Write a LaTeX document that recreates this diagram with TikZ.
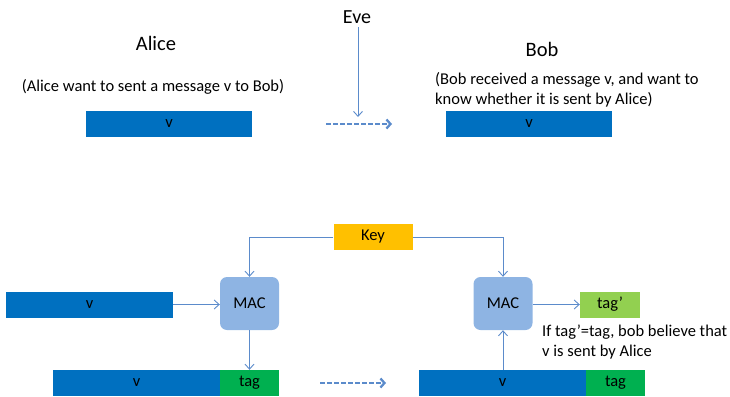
\documentclass[tikz,border=0pt]{standalone}
\usepackage{fontspec}
\setmainfont{Carlito}
\usepackage{xcolor}
\usetikzlibrary{arrows.meta}

\definecolor{barblue}{HTML}{0070C0}
\definecolor{tagGreen}{HTML}{00B050}
\definecolor{tagLight}{HTML}{92D050}
\definecolor{keyOrange}{HTML}{FFC000}
\definecolor{macBlue}{HTML}{8EB4E3}
\definecolor{lineBlue}{HTML}{5B8BCB}

\begin{document}
\begin{tikzpicture}[x=1pt, y=-1pt,
	bar/.style={fill=barblue, minimum height=26pt, inner sep=0pt, font=\fontsize{16.5}{18}\selectfont},
	tagbox/.style={fill=tagGreen, minimum width=59pt, minimum height=26pt, inner sep=0pt, font=\fontsize{16.5}{18}\selectfont},
	macbox/.style={fill=macBlue, rounded corners=7pt, minimum width=59pt, minimum height=53pt, inner sep=0pt, font=\fontsize{16.5}{18}\selectfont},
	link/.style={draw=lineBlue, line width=0.9pt, -{Straight Barb[length=5pt, width=9pt]}},
	send/.style={draw=lineBlue, line width=2.3pt, dash pattern=on 4.5pt off 2.5pt, -{Straight Barb[length=4pt, width=9pt]}}]
	\useasboundingbox (0, 0) rectangle (730, 396);

	% Top: sending the message
	\node[font=\fontsize{20}{22}\selectfont] (eve) at (357, 17) {Eve};
	\node[font=\fontsize{20.5}{22}\selectfont] (alice) at (156, 43) {Alice};
	\node[font=\fontsize{20.5}{22}\selectfont] (bob) at (542, 49) {Bob};
	\node[font=\fontsize{16.5}{20}\selectfont] (aliceTxt) at (153, 87) {(Alice want to sent a message v to Bob)};
	\node[font=\fontsize{16.5}{20}\selectfont, align=left, anchor=west, inner sep=0pt] (bobTxt) at (435, 90) {(Bob received a message v, and want to\\know whether it is sent by Alice)};

	\node[bar, minimum width=166pt] (v1) at (169, 124) {v};
	\node[bar, minimum width=166pt] (v2) at (529, 124) {v};

	\coordinate (e1) at (358, 117);
	\coordinate (s1) at (326, 124);
	\coordinate (s2) at (392, 124);
	\draw[link] (eve.south -| e1) -- (e1);
	\draw[send] (s1) -- (s2);

	% Bottom: MAC and tag
	\node[fill=keyOrange, minimum width=79pt, minimum height=26pt, inner sep=0pt, font=\fontsize{16.5}{18}\selectfont] (key) at (373, 237) {Key};
	\node[macbox] (mac1) at (249.5, 303.5) {MAC};
	\node[macbox] (mac2) at (503, 303.5) {MAC};

	\node[bar, minimum width=167pt] (v3) at (89.5, 304.5) {v};
	\node[bar, minimum width=167pt] (v4) at (136.5, 383) {v};
	\node[tagbox] (t4) at (249.5, 383) {tag};
	\node[bar, minimum width=167pt] (v5) at (502.5, 383) {v};
	\node[tagbox] (t5) at (615.5, 383) {tag};
	\node[fill=tagLight, minimum width=60pt, minimum height=26pt, inner sep=0pt, font=\fontsize{16.5}{18}\selectfont] (tagP) at (610, 304.5) {tag’};
	\node[font=\fontsize{16.5}{20}\selectfont, align=left, anchor=west, inner sep=0pt] (checkTxt) at (542, 342) {If tag’=tag, bob believe that\\v is sent by Alice};

	\draw[link] (key.west) -| (mac1.north);
	\draw[link] (key.east) -| (mac2.north);
	\draw[link] (v3.east) -- (mac1.west |- v3.east);
	\draw[link] (mac1.south) -- (t4.north);
	\draw[link] (mac2.east |- tagP.west) -- (tagP.west);
	\draw[link] (mac2.south |- v5.north) -- (mac2.south);

	\coordinate (s3) at (320, 383);
	\coordinate (s4) at (386, 383);
	\draw[send] (s3) -- (s4);
\end{tikzpicture}
\end{document}
